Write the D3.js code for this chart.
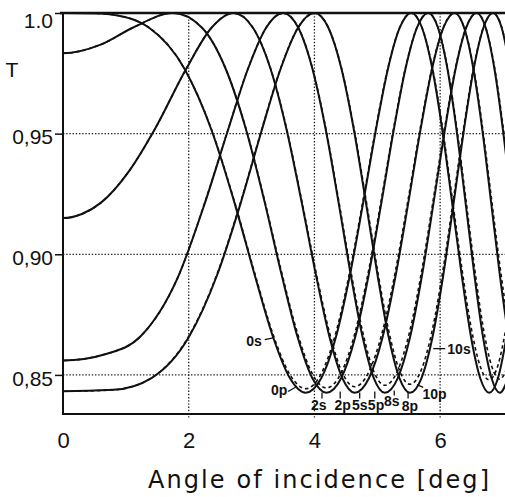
<!DOCTYPE html>
<html>
<head>
<meta charset="utf-8">
<script src="https://cdn.jsdelivr.net/npm/d3@7"></script>
<style>
  body { margin: 0; background: #fff; }
  svg { display: block; }
</style>
</head>
<body>
<div id="plot"></div>
<script>
// Axis ticks
const angleTicks = [0, 2, 4, 6];
const tTicks = [0.85, 0.90, 0.95, 1.0];
const tTickLabels = ["0,85", "0,90", "0,95", "1.0"];

// Curves: [angle, T (s, solid), T (p, dashed)]
const curve0 = [
  [-0.6, .9998, .9998], [0, 1, 1], [0.6, .9998, .9998], [0.9, .9988, .9988], [1.15, .9970, .9970],
  [1.365, .994, .994], [1.930, .977, .977],
  [2.364, .9514, .9516], [2.729, .9213, .9217], [3.052, .8912, .8920], [3.343, .8656, .8667],
  [3.611, .8486, .8501], [3.860, .8426, .8443], [4.108, .8486, .8505], [4.341, .8656, .8675],
  [4.563, .8912, .8929], [4.775, .9213, .9226], [4.977, .9514, .9523], [5.171, .977, .9775],
  [5.359, .994, .9941], [5.540, 1, 1], [5.710, .994, .9941], [5.875, .977, .9776],
  [6.035, .9514, .9527], [6.191, .9213, .9235], [6.344, .8912, .8944], [6.492, .8656, .8698],
  [6.638, .8486, .8535], [6.780, .8426, .8480], [6.920, .8486, .8540], [7.056, .8656, .8706]
];
const curve2 = [
  [-0.6, .9869, .9869], [0, .9833, .9833], [0.6, .9869, .9869], [1.118, .994, .994], [1.750, 1, 1],
  [2.208, .994, .994], [2.586, .977, .9771], [2.915, .9514, .9517], [3.211, .9213, .9219],
  [3.481, .8912, .8922], [3.733, .8656, .8670], [3.968, .8486, .8504], [4.190, .8426, .8446],
  [4.425, .8486, .8508], [4.648, .8656, .8677], [4.861, .8912, .8931], [5.065, .9213, .9228],
  [5.261, .9514, .9524], [5.450, .977, .9775], [5.633, .994, .9941], [5.810, 1, 1],
  [5.964, .994, .9942], [6.115, .977, .9776], [6.262, .9514, .9528], [6.405, .9213, .9237],
  [6.546, .8912, .8947], [6.683, .8656, .8700], [6.818, .8486, .8538], [6.950, .8426, .8482],
  [7.080, .8486, .8542]
];
const curve5 = [
  [-0.3, .9167, .9167], [0, .915, .915], [0.3, .9167, .9167], [0.6, .9213, .9213], [1.06, .9348, .9348],
  [1.451, .9514, .9514], [1.963, .977, .977], [2.366, .994, .994], [2.710, 1, 1],
  [3.019, .994, .994], [3.300, .977, .9772], [3.559, .9514, .9519], [3.799, .9213, .9221],
  [4.026, .8912, .8925], [4.241, .8656, .8674], [4.445, .8486, .8508], [4.640, .8426, .8451],
  [4.867, .8486, .8513], [5.084, .8656, .8682], [5.292, .8912, .8935], [5.493, .9213, .9231],
  [5.686, .9514, .9526], [5.873, .977, .9776], [6.054, .994, .9942], [6.230, 1, 1],
  [6.380, .994, .9942], [6.528, .977, .9777], [6.672, .9514, .9530], [6.812, .9213, .9240],
  [6.951, .8912, .8951], [7.086, .8656, .8706]
];
const curve8 = [
  [-0.7, .8588, .8588], [0, .856, .856], [0.7, .8588, .8588], [1.235, .866, .866], [1.820, .890, .890],
  [2.258, .9213, .9216], [2.624, .9514, .9516], [2.945, .977, .9771], [3.234, .994, .994], [3.500, 1, 1],
  [3.741, .994, .9941], [3.967, .977, .9773], [4.182, .9514, .9520], [4.385, .9213, .9224],
  [4.580, .8912, .8929], [4.767, .8656, .8679], [4.946, .8486, .8513], [5.120, .8426, .8457],
  [5.324, .8486, .8518], [5.521, .8656, .8686], [5.711, .8912, .8938], [5.895, .9213, .9233],
  [6.074, .9514, .9527], [6.247, .977, .9777], [6.416, .994, .9942], [6.580, 1, 1],
  [6.723, .994, .9942], [6.863, .977, .9778], [7.000, .9514, .9532], [7.134, .9213, .9243]
];
const curve10 = [
  [-0.8, .8438, .8438], [0, .8432, .8432], [0.8, .8438, .8438], [1.414, .8488, .8489], [2.000, .8656, .866],
  [2.449, .8912, .8917], [2.828, .9213, .9218], [3.162, .9514, .9518], [3.464, .977, .9772],
  [3.742, .994, .9941], [4.000, 1, 1], [4.220, .994, .9941], [4.429, .977, .9773],
  [4.629, .9514, .9522], [4.820, .9213, .9227], [5.005, .8912, .8932], [5.182, .8656, .8683],
  [5.354, .8486, .8518], [5.520, .8426, .8461], [5.702, .8486, .8522], [5.878, .8656, .8690],
  [6.049, .8912, .8941], [6.215, .9213, .9235], [6.377, .9514, .9529], [6.535, .977, .9777],
  [6.690, .994, .9942], [6.840, 1, 1], [6.978, .994, .9942], [7.113, .977, .9779]
];
const curves = [curve0, curve2, curve5, curve8, curve10];

// Curve labels: text, position [angle, T], pointer line
const curveLabels = [
  { text: "0s",  at: [3.04, .8618], tick: [[3.21, .8646], [3.36, .8655]] },
  { text: "0p",  at: [3.44, .8415], tick: [[3.58, .8431], [3.72, .8452]] },
  { text: "2s",  at: [4.07, .8355], tick: [[4.12, .8402], [4.12, .8427]] },
  { text: "2p",  at: [4.45, .8355], tick: [[4.41, .8402], [4.41, .8431]] },
  { text: "5s",  at: [4.72, .8355], tick: [[4.72, .8402], [4.72, .8427]] },
  { text: "5p",  at: [4.98, .8355], tick: [[4.96, .8402], [4.96, .8431]] },
  { text: "8s",  at: [5.23, .8371], tick: [[5.27, .8415], [5.27, .8435]] },
  { text: "8p",  at: [5.52, .8349], tick: [[5.49, .8402], [5.49, .8427]] },
  { text: "10p", at: [5.91, .8400], tick: [[5.73, .8448], [5.63, .8460]] },
  { text: "10s", at: [6.30, .8587], tick: [[5.89, .8609], [6.08, .8609]] }
];

const width = 505, height = 497;
const x = d3.scaleLinear().domain([0, 7]).range([63, 503]);
const y = d3.scaleLinear().domain([0.8338, 1.0]).range([414, 13]);

const svg = d3.select("#plot").append("svg")
    .attr("width", width)
    .attr("height", height);

// clip for the curves
svg.append("clipPath").attr("id", "clip")
  .append("rect").attr("x", 63).attr("y", 10).attr("width", 442).attr("height", 404);

// dotted grid
const grid = svg.append("g").attr("stroke", "#222").attr("stroke-width", 1.3)
    .attr("stroke-dasharray", "1.4,1.8");
grid.selectAll(".gx").data(angleTicks.filter(d => d > 0)).enter().append("line")
    .attr("x1", d => x(d)).attr("x2", d => x(d))
    .attr("y1", y(1.0)).attr("y2", 418);
grid.selectAll(".gy").data(tTicks.filter(d => d < 1)).enter().append("line")
    .attr("x1", 63).attr("x2", 505)
    .attr("y1", d => y(d)).attr("y2", d => y(d));

// curves
const plot = svg.append("g").attr("clip-path", "url(#clip)");
const lineS = d3.line().x(d => x(d[0])).y(d => y(d[1])).curve(d3.curveMonotoneX);
const lineP = d3.line().x(d => x(d[0])).y(d => y(d[2])).curve(d3.curveMonotoneX);

plot.selectAll(".p").data(curves).enter().append("path")
    .attr("d", lineP)
    .attr("fill", "none")
    .attr("stroke", "#111")
    .attr("stroke-width", 1.6)
    .attr("stroke-dasharray", "3.5,3");
plot.selectAll(".s").data(curves).enter().append("path")
    .attr("d", lineS)
    .attr("fill", "none")
    .attr("stroke", "#111")
    .attr("stroke-width", 2);

// frame
const frame = svg.append("g").attr("stroke", "#111").attr("fill", "none");
frame.append("line").attr("x1", 60).attr("x2", 505).attr("y1", y(1.0)).attr("y2", y(1.0)).attr("stroke-width", 2.5);
frame.append("line").attr("x1", 63).attr("x2", 505).attr("y1", 414).attr("y2", 414).attr("stroke-width", 2);
frame.append("line").attr("x1", 63).attr("x2", 63).attr("y1", 12).attr("y2", 415).attr("stroke-width", 2);

// y axis
const yAxis = svg.append("g")
    .attr("transform", "translate(63,0)")
    .call(d3.axisLeft(y).tickValues(tTicks).tickFormat((d, i) => tTickLabels[i])
        .tickSize(8).tickSizeOuter(0).tickPadding(2));
yAxis.select(".domain").remove();
yAxis.selectAll(".tick line").attr("stroke", "#111").attr("stroke-width", 1.5);
yAxis.selectAll(".tick text")
    .attr("fill", "#111")
    .style("font-family", "'Liberation Sans', Arial, sans-serif")
    .style("font-size", "21px")
    .attr("dy", (d) => d === 1.0 ? "0.68em" : "0.48em");

// x axis
const xAxis = svg.append("g")
    .attr("transform", "translate(0,414)")
    .call(d3.axisBottom(x).tickValues(angleTicks).tickFormat(d3.format("d"))
        .tickSize(0).tickPadding(18));
xAxis.select(".domain").remove();
xAxis.selectAll(".tick text")
    .attr("fill", "#111")
    .style("font-family", "'Liberation Sans', Arial, sans-serif")
    .style("font-size", "22px");

// axis titles
svg.append("text")
    .attr("x", 148).attr("y", 488)
    .attr("textLength", 341).attr("lengthAdjust", "spacing")
    .attr("fill", "#111")
    .style("font-family", "'DejaVu Sans', sans-serif")
    .style("font-size", "24px")
    .text("Angle of incidence [deg]");

svg.append("text")
    .attr("x", 12).attr("y", 77)
    .attr("text-anchor", "middle")
    .attr("fill", "#111")
    .style("font-family", "'Liberation Sans', Arial, sans-serif")
    .style("font-size", "21px")
    .text("T");

// curve labels
const lab = svg.append("g");
lab.selectAll("line").data(curveLabels).enter().append("line")
    .attr("x1", d => x(d.tick[0][0])).attr("y1", d => y(d.tick[0][1]))
    .attr("x2", d => x(d.tick[1][0])).attr("y2", d => y(d.tick[1][1]))
    .attr("stroke", "#111").attr("stroke-width", 1.3);
lab.selectAll("text").data(curveLabels).enter().append("text")
    .attr("x", d => x(d.at[0])).attr("y", d => y(d.at[1]))
    .attr("text-anchor", "middle")
    .attr("fill", "#111")
    .style("font-family", "'Liberation Sans', Arial, sans-serif")
    .style("font-size", "14px")
    .style("font-weight", "bold")
    .text(d => d.text);
</script>
</body>
</html>
